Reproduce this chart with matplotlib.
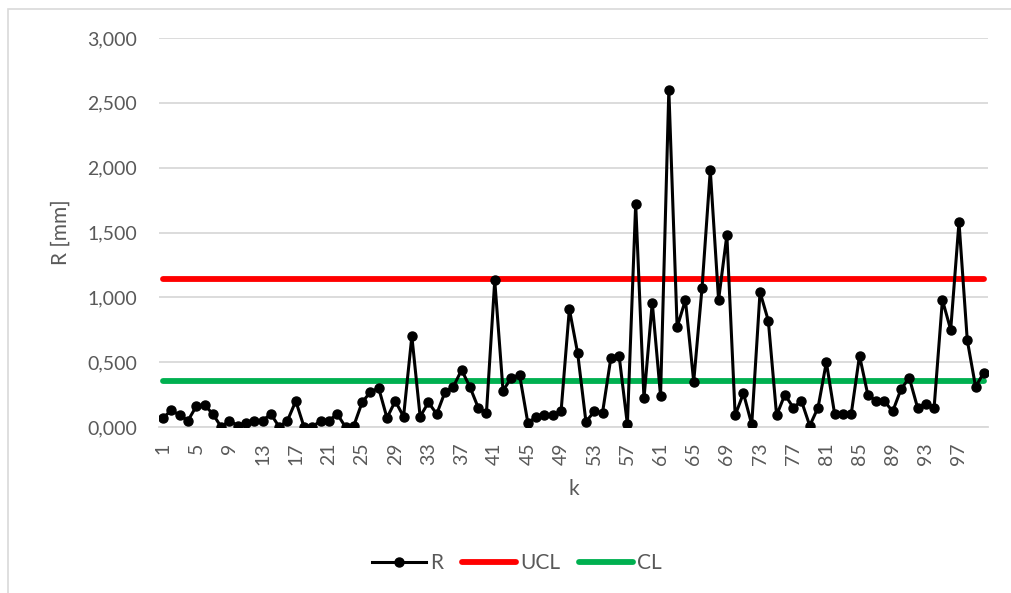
import matplotlib
matplotlib.use("Agg")
import matplotlib.pyplot as plt
from matplotlib.ticker import FuncFormatter, FixedLocator
from matplotlib.lines import Line2D
from matplotlib.patches import Rectangle

k = list(range(1, 101))
R = [0.07, 0.13, 0.09, 0.05, 0.16, 0.17, 0.10, 0.00, 0.05, 0.01,
     0.03, 0.05, 0.05, 0.10, 0.00, 0.05, 0.20, 0.00, 0.00, 0.05,
     0.05, 0.10, 0.00, 0.01, 0.19, 0.27, 0.30, 0.07, 0.20, 0.08,
     0.70, 0.08, 0.19, 0.10, 0.27, 0.31, 0.44, 0.31, 0.15, 0.11,
     1.13, 0.28, 0.38, 0.40, 0.03, 0.08, 0.09, 0.09, 0.12, 0.91,
     0.57, 0.04, 0.12, 0.11, 0.53, 0.55, 0.02, 1.72, 0.22, 0.96,
     0.24, 2.60, 0.77, 0.98, 0.35, 1.07, 1.98, 0.98, 1.48, 0.09,
     0.26, 0.02, 1.04, 0.82, 0.09, 0.25, 0.15, 0.20, 0.01, 0.15,
     0.50, 0.10, 0.10, 0.10, 0.55, 0.25, 0.20, 0.20, 0.12, 0.29,
     0.38, 0.15, 0.18, 0.15, 0.98, 0.75, 1.58, 0.67, 0.31, 0.42]
UCL_value = 1.145
CL_value = 0.352
UCL = [UCL_value] * len(k)
CL = [CL_value] * len(k)
xtick_labels = [str(v) for v in range(1, 101, 4)]
yticks = [0, 0.5, 1.0, 1.5, 2.0, 2.5, 3.0]

W, H = 1011, 593
fig = plt.figure(figsize=(W / 100, H / 100), dpi=100)
plt.rcParams['font.family'] = ['Lato', 'DejaVu Sans']
txt = '#595959'
fs = 14

ax = fig.add_axes([159 / W, 1 - 427 / H, (988 - 159) / W, (427 - 38) / H])
ax.set_xlim(0.5, 100.5)
ax.set_ylim(0, 3.0)

ax.plot(k, UCL, color='#FF0000', lw=4.2, solid_capstyle='round', zorder=2)
ax.plot(k, CL, color='#00B050', lw=4.2, solid_capstyle='round', zorder=2)
ax.plot(k, R, color='black', lw=2.2, marker='o', markersize=6.5, zorder=3)

ax.yaxis.set_major_locator(FixedLocator(yticks))
ax.yaxis.set_major_formatter(FuncFormatter(lambda v, p: f"{v:.3f}".replace('.', ',')))
ax.set_xticks([int(s) for s in xtick_labels])
ax.set_xticklabels(xtick_labels, rotation=90)
ax.tick_params(axis='y', length=0, pad=16, labelsize=fs, labelcolor=txt)
ax.tick_params(axis='x', length=0, pad=11, labelsize=fs, labelcolor=txt)
ax.grid(axis='y', color='#D9D9D9', lw=1.3)
ax.set_axisbelow(True)
for s in ['top', 'right', 'left']:
    ax.spines[s].set_visible(False)
ax.spines['bottom'].set_color('#D9D9D9')
ax.spines['bottom'].set_linewidth(1.3)

ax.set_xlabel('k', fontsize=fs + 1, color=txt, labelpad=10)
ax.set_ylabel('R [mm]', fontsize=fs + 1, color=txt, labelpad=12)

fig.patches.append(Rectangle((8 / W, -0.1), 1.2, 1 - 9 / H + 0.1, transform=fig.transFigure,
                             fill=False, edgecolor='#D9D9D9', lw=1.2))

handles = [Line2D([], [], color='black', lw=2.2, marker='o', markersize=6.5),
           Line2D([], [], color='#FF0000', lw=4.2, solid_capstyle='round'),
           Line2D([], [], color='#00B050', lw=4.2, solid_capstyle='round')]
leg = fig.legend(handles, ['R', 'UCL', 'CL'], loc='center', bbox_to_anchor=(517 / W, 1 - 563 / H),
                 ncol=3, frameon=False, fontsize=fs + 1, handlelength=2.6, handletextpad=0.2,
                 columnspacing=0.9, labelcolor=txt)

fig.savefig('out.png', dpi=100)
